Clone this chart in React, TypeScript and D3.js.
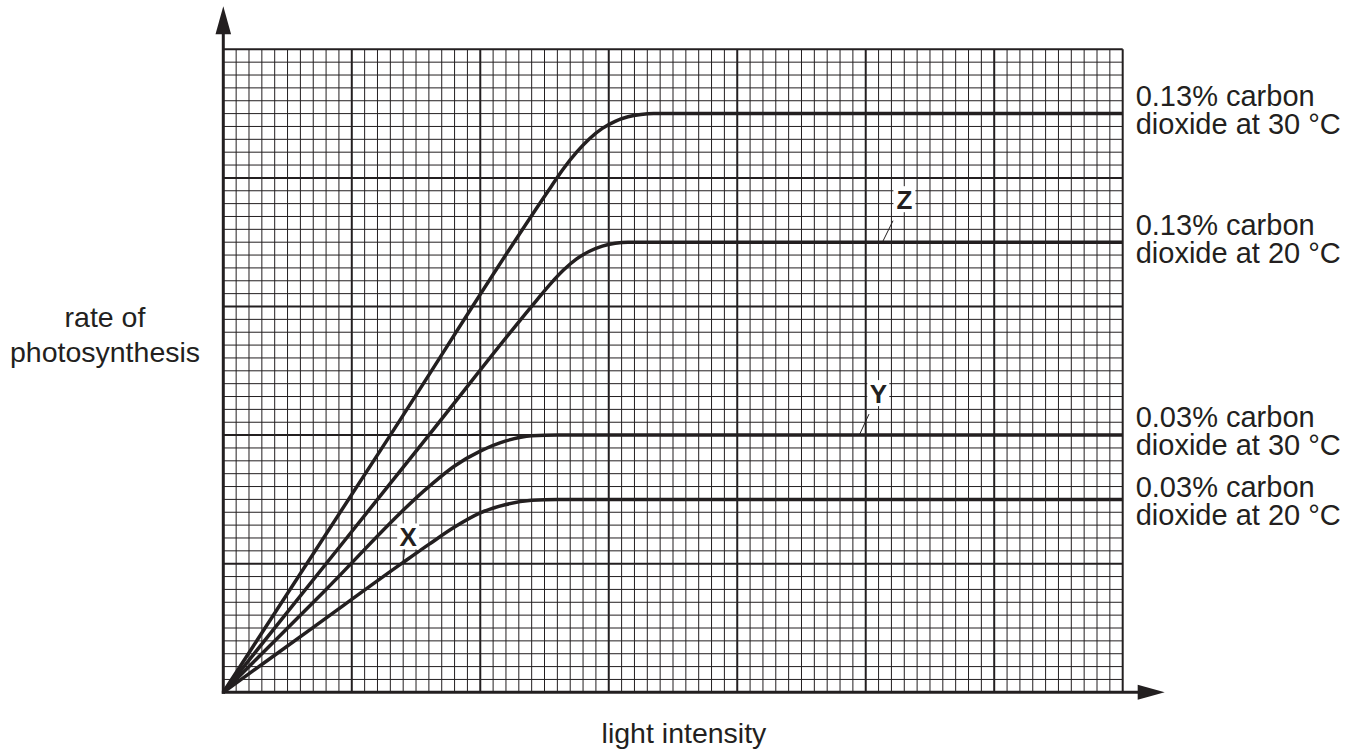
import { useMemo } from "react";
import * as d3 from "d3";

// grid units: 70 small squares across, 50 up
const xMinor = d3.range(0, 71);
const yMinor = d3.range(0, 51);

const seriesNames = [
  ["0.13% carbon", "dioxide at 30 °C"],
  ["0.13% carbon", "dioxide at 20 °C"],
  ["0.03% carbon", "dioxide at 30 °C"],
  ["0.03% carbon", "dioxide at 20 °C"],
];

const co2High30: [number, number][] = [
  [0, 0], [13, 20], [25.5, 39.3], [26.5, 40.75], [27.5, 42], [28.5, 43.05], [29.5, 43.85],
  [30.5, 44.4], [31.5, 44.75], [32.5, 44.93], [33.5, 45], [70, 45],
];
const co2High20: [number, number][] = [
  [0, 0], [16, 20], [24.4, 30.5], [25.5, 31.8], [26.5, 32.85], [27.5, 33.7], [28.5, 34.3],
  [29.5, 34.7], [30.5, 34.92], [31.5, 35], [70, 35],
];
const co2Low30: [number, number][] = [
  [0, 0], [8, 8], [16, 16], [18, 17.6], [20, 18.75], [22, 19.55], [24, 19.95], [26, 20], [70, 20],
];
const co2Low20: [number, number][] = [
  [0, 0], [7, 5.05], [14, 10.1], [16, 11.5], [18, 12.85], [20, 13.95], [22, 14.6], [24, 14.93], [26, 15], [70, 15],
];

const curves = [co2High30, co2High20, co2Low30, co2Low20];

// letter markers: which curve they point at, and the light intensity there
const markerLetters = ["X", "Y", "Z"];
const markerCurve = [3, 2, 1];
const markerAt = [14, 49.5, 51.3];

const INK = "#231f20";
const FONT = "'Liberation Sans', Arial, Helvetica, sans-serif";

const W = 1358;
const H = 751;
const LEFT = 223.3;
const RIGHT = 1122.7;
const TOP = 49.3;
const BOTTOM = 692.3;

// label offsets per curve (first line baseline relative to plateau)
const labelDy = [-8, -7, -8, -2];
// letter offsets relative to the point on the curve
const markerOffset: [number, number][] = [
  [5, -26],
  [19, -42],
  [22, -43],
];

export default function App() {
  const x = useMemo(() => d3.scaleLinear().domain([0, 70]).range([LEFT, RIGHT]), []);
  const y = useMemo(() => d3.scaleLinear().domain([0, 50]).range([BOTTOM, TOP]), []);

  const line = d3
    .line<[number, number]>()
    .x((d) => x(d[0]))
    .y((d) => y(d[1]))
    .curve(d3.curveMonotoneX);

  const valueAt = (pts: [number, number][], v: number) => {
    const last = pts[pts.length - 1];
    if (v >= last[0]) return last[1];
    const i = d3.bisector((p: [number, number]) => p[0]).right(pts, v);
    const a = pts[i - 1];
    const b = pts[i];
    return a[1] + ((b[1] - a[1]) * (v - a[0])) / (b[0] - a[0]);
  };

  return (
    <svg
      width={W}
      height={H}
      style={{ position: "absolute", left: 0, top: 0, background: "#fff" }}
    >
      <rect width={W} height={H} fill="#fff" />

      {/* minor grid */}
      <g stroke={INK} strokeWidth={1}>
        {xMinor
          .filter((v) => v % 10 !== 0)
          .map((v) => (
            <line key={"vx" + v} x1={x(v)} x2={x(v)} y1={y(0)} y2={y(50)} />
          ))}
        {yMinor
          .filter((v) => v % 10 !== 0)
          .map((v) => (
            <line key={"hy" + v} x1={x(0)} x2={x(70)} y1={y(v)} y2={y(v)} />
          ))}
      </g>
      {/* major grid */}
      <g stroke={INK} strokeWidth={2}>
        {xMinor
          .filter((v) => v % 10 === 0 && v > 0)
          .map((v) => (
            <line key={"VX" + v} x1={x(v)} x2={x(v)} y1={y(0)} y2={y(50)} />
          ))}
        {yMinor
          .filter((v) => v % 10 === 0 && v > 0)
          .map((v) => (
            <line key={"HY" + v} x1={x(0)} x2={x(70)} y1={y(v)} y2={y(v)} />
          ))}
      </g>

      {/* axes with arrows */}
      <g stroke={INK} strokeWidth={3}>
        <line x1={x(0)} x2={x(0)} y1={y(0) + 1.5} y2={y(50) - 16} />
        <line x1={x(0) - 1.5} x2={x(70) + 18} y1={y(0)} y2={y(0)} />
      </g>
      <path
        d={`M${x(0)},${y(50) - 43} L${x(0) - 7.8},${y(50) - 15} L${x(0) + 7.8},${y(50) - 15} Z`}
        fill={INK}
      />
      <path
        d={`M${x(70) + 42},${y(0)} L${x(70) + 15},${y(0) - 7.5} L${x(70) + 15},${y(0) + 7.5} Z`}
        fill={INK}
      />

      {/* curves */}
      <g fill="none" stroke={INK} strokeWidth={3.5} strokeLinejoin="round">
        {curves.map((c, i) => (
          <path key={i} d={line(c) ?? ""} />
        ))}
      </g>

      {/* letter markers */}
      {markerLetters.map((m, i) => {
        const pts = curves[markerCurve[i]];
        const px = x(markerAt[i]);
        const py = y(valueAt(pts, markerAt[i]));
        const [dx, dy] = markerOffset[i];
        const lx = px + dx;
        const ly = py + dy;
        return (
          <g key={m}>
            <rect x={lx - 11} y={ly - 13} width={22} height={26} fill="#fff" />
            <line
              x1={px}
              y1={py}
              x2={px + dx * 0.3 + (dx > 10 ? 4 : 0)}
              y2={py + dy * 0.5}
              stroke={INK}
              strokeWidth={1}
            />
            <text
              x={lx}
              y={ly + 9.5}
              textAnchor="middle"
              fontFamily={FONT}
              fontWeight="bold"
              fontSize={26}
              fill={INK}
            >
              {m}
            </text>
          </g>
        );
      })}

      {/* series labels */}
      <g fontFamily={FONT} fontSize={29} fill={INK}>
        {seriesNames.map((lines, i) => {
          const c = curves[i];
          const base = y(c[c.length - 1][1]) + labelDy[i];
          return (
            <text key={i} x={RIGHT + 13} y={base}>
              <tspan x={RIGHT + 13}>{lines[0]}</tspan>
              <tspan x={RIGHT + 13} dy={28}>
                {lines[1]}
              </tspan>
            </text>
          );
        })}
      </g>

      {/* axis titles */}
      <g fontFamily={FONT} fontSize={28.5} fill={INK} textAnchor="middle">
        <text x={105} y={327}>
          rate of
        </text>
        <text x={105} y={362}>
          photosynthesis
        </text>
        <text x={684} y={743}>
          light intensity
        </text>
      </g>
    </svg>
  );
}
